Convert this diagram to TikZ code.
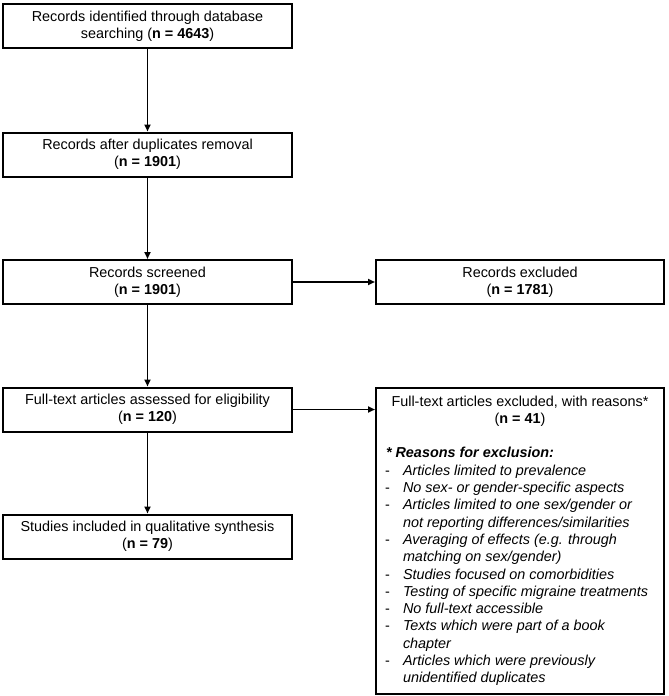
\documentclass[tikz,border=0pt]{standalone}
\usepackage{fontspec}
\setmainfont{Liberation Sans}
\usetikzlibrary{arrows.meta}
\tikzset{
  basefont/.style={font=\fontsize{14.4}{17.3}\selectfont},
  flowbox/.style={draw, line width=2pt, basefont, align=center, minimum width=289pt, minimum height=44pt, inner sep=2pt},
  bigbox/.style={draw, line width=2pt, basefont, inner sep=0pt, anchor=north},
  arr/.style={line width=1.8pt, -{Triangle[length=7pt,width=6pt]}}
}
\begin{document}
\begin{tikzpicture}[x=1pt,y=-1pt]
\useasboundingbox (0,0) rectangle (669,696);
\node[flowbox] (b1) at (147.5,26) {Records identified through database\\searching (\textbf{n = 4643})};
\node[flowbox] (b2) at (147.5,154.5) {Records after duplicates removal\\(\textbf{n = 1901})};
\node[flowbox] (b3) at (147.5,282) {Records screened\\(\textbf{n = 1901})};
\node[flowbox] (b4) at (147.5,409.5) {Full-text articles assessed for eligibility\\(\textbf{n = 120})};
\node[flowbox] (b5) at (147.5,536.5) {Studies included in qualitative synthesis\\(\textbf{n = 79})};
\node[flowbox, minimum width=288pt] (r1) at (520,282) {Records excluded\\(\textbf{n = 1781})};
\node[bigbox] (r2) at (520,387) {\begin{minipage}[t][306pt][t]{288pt}\raggedright
\rule{0pt}{18pt}\makebox[288pt][c]{Full-text articles excluded, with reasons*}\\
\makebox[288pt][c]{(\textbf{n = 41})}\\[17.3pt]
\hspace*{10pt}\textbf{\textit{* Reasons for exclusion:}}\\
\hspace*{9pt}\makebox[18pt][l]{-}\textit{Articles limited to prevalence}\\
\hspace*{9pt}\makebox[18pt][l]{-}\textit{No sex- or gender-specific aspects}\\
\hspace*{9pt}\makebox[18pt][l]{-}\textit{Articles limited to one sex/gender or}\\
\hspace*{27pt}\textit{not reporting differences/similarities}\\
\hspace*{9pt}\makebox[18pt][l]{-}\textit{Averaging of effects (e.g. through}\\
\hspace*{27pt}\textit{matching on sex/gender)}\\
\hspace*{9pt}\makebox[18pt][l]{-}\textit{Studies focused on comorbidities}\\
\hspace*{9pt}\makebox[18pt][l]{-}\textit{Testing of specific migraine treatments}\\
\hspace*{9pt}\makebox[18pt][l]{-}\textit{No full-text accessible}\\
\hspace*{9pt}\makebox[18pt][l]{-}\textit{Texts which were part of a book}\\
\hspace*{27pt}\textit{chapter}\\
\hspace*{9pt}\makebox[18pt][l]{-}\textit{Articles which were previously}\\
\hspace*{27pt}\textit{unidentified duplicates}
\end{minipage}};
\draw[arr] (b1) -- (b2);
\draw[arr] (b2) -- (b3);
\draw[arr] (b3) -- (b4);
\draw[arr] (b4) -- (b5);
\draw[arr] (b3.east) -- (r1.west);
\draw[arr] (b4.east) -- (b4.east -| r2.west);
\end{tikzpicture}
\end{document}
